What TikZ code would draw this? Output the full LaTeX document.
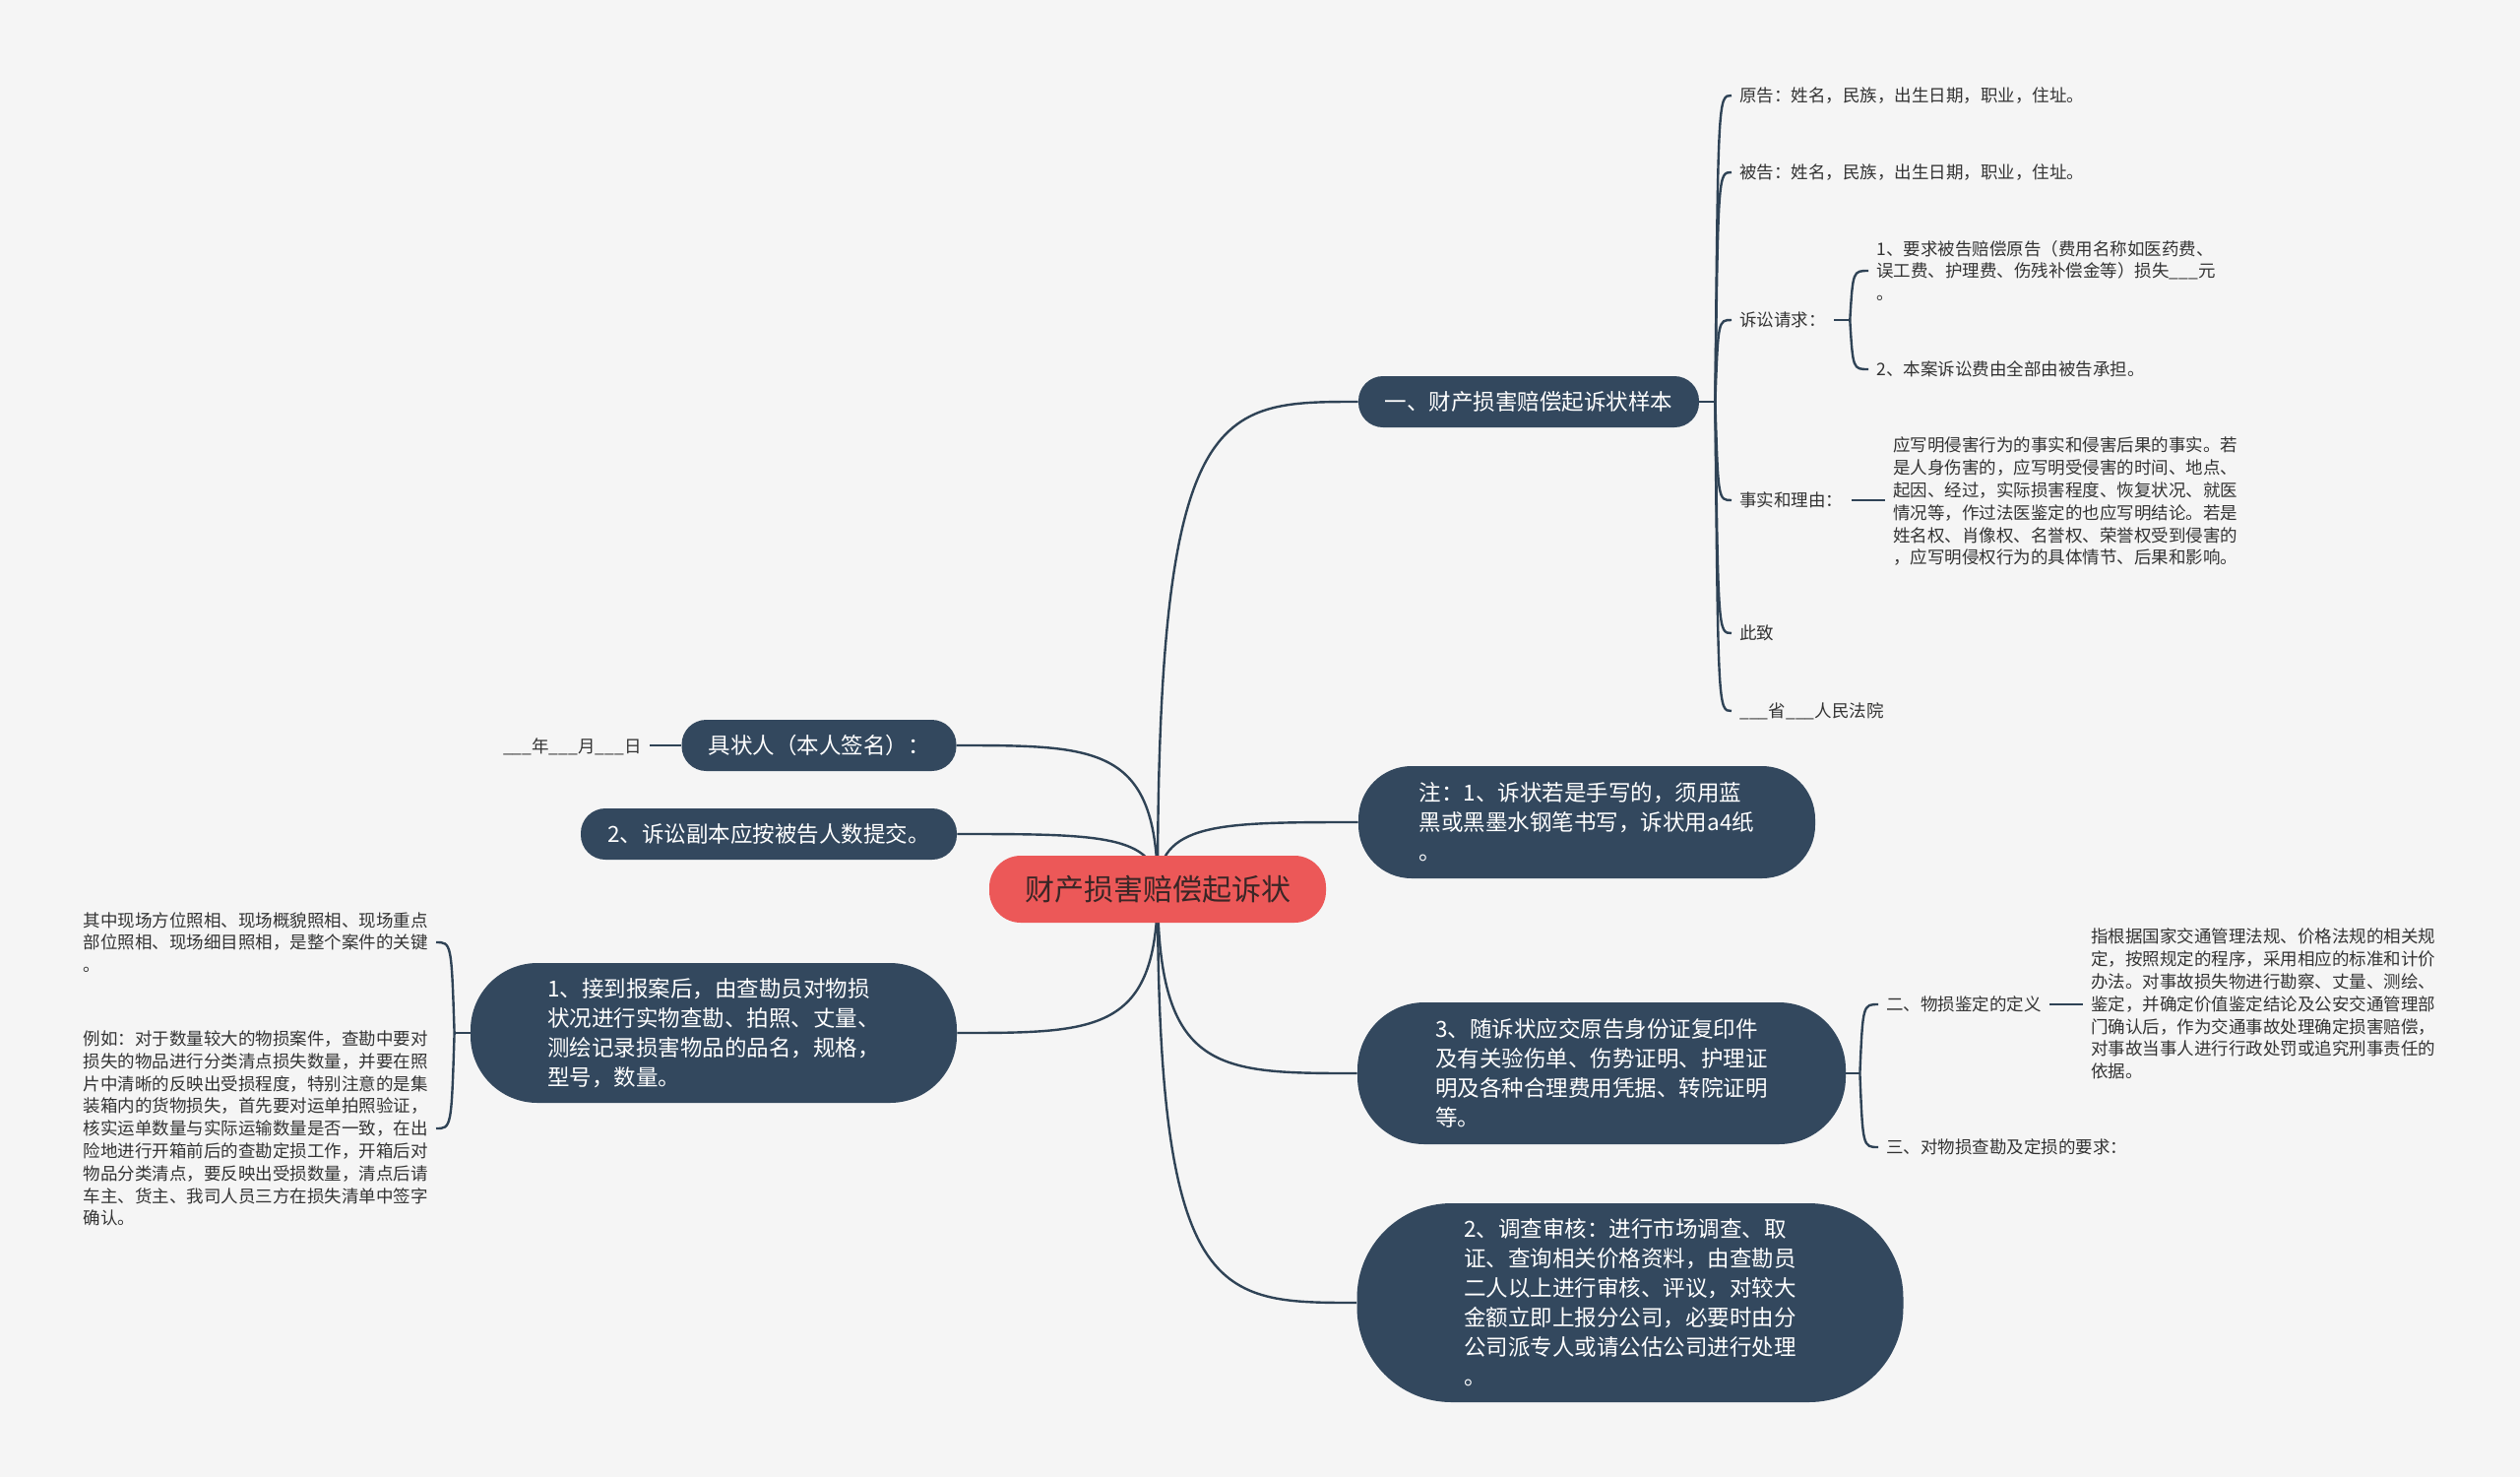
\documentclass[tikz,border=0pt]{standalone}
\usepackage{fontspec}
\setmainfont{Noto Sans CJK SC}
\usetikzlibrary{calc}
\definecolor{bgc}{HTML}{F5F5F5}
\definecolor{navy}{HTML}{33485E}
\definecolor{linec}{HTML}{2F4356}
\definecolor{rootc}{HTML}{EC5858}
\definecolor{roottext}{HTML}{3A2626}
\definecolor{leafc}{HTML}{333333}
\pgfdeclarelayer{back}
\pgfdeclarelayer{links}
\pgfsetlayers{back,links,main}
\newcommand\mybl{\_\_\_}
\tikzset{
  mainbox/.style={rectangle, fill=navy, text=white, align=left, inner sep=0pt,
    font=\fontsize{11.25pt}{15pt}\selectfont},
  rootbox/.style={rectangle, fill=rootc, text=roottext, inner sep=0pt,
    minimum width=171pt, minimum height=34pt, rounded corners=16pt,
    font=\fontsize{15pt}{18pt}\selectfont},
  leaf/.style={align=left, inner xsep=4pt, inner ysep=1pt, text=leafc,
    font=\fontsize{8.75pt}{11.4pt}\selectfont},
  link/.style={draw=linec, line width=1.2pt},
}
\begin{document}
\begin{tikzpicture}[x=0.5pt, y=-0.5pt]
\useasboundingbox (0,0) rectangle (2560,1500);
\begin{pgfonlayer}{back}
\fill[bgc] (0,0) rectangle (2560,1500);
\end{pgfonlayer}

% root
\node[rootbox] (root) at (1176,903) {财产损害赔偿起诉状};

% main branches
\node[mainbox, minimum width=173pt, minimum height=26pt, rounded corners=12.5pt] (n1) at (1553,408) {一、财产损害赔偿起诉状样本};
\node[mainbox, minimum width=232pt, minimum height=57pt, rounded corners=27pt] (n2) at (1612,835) {注：1、诉状若是手写的，须用蓝\\黑或黑墨水钢笔书写，诉状用a4纸\\。};
\node[mainbox, minimum width=248pt, minimum height=72pt, rounded corners=34pt] (n3) at (1627,1090) {3、随诉状应交原告身份证复印件\\及有关验伤单、伤势证明、护理证\\明及各种合理费用凭据、转院证明\\等。};
\node[mainbox, minimum width=277.5pt, minimum height=101pt, rounded corners=48pt] (n4) at (1656,1323) {2、调查审核：进行市场调查、取\\证、查询相关价格资料，由查勘员\\二人以上进行审核、评议，对较大\\金额立即上报分公司，必要时由分\\公司派专人或请公估公司进行处理\\。};
\node[mainbox, minimum width=139.5pt, minimum height=26pt, rounded corners=12.5pt] (l1) at (832,757) {具状人（本人签名）：};
\node[mainbox, minimum width=191pt, minimum height=26pt, rounded corners=12.5pt] (l2) at (781,847) {2、诉讼副本应按被告人数提交。};
\node[mainbox, minimum width=247pt, minimum height=71pt, rounded corners=34pt] (l3) at (725,1049) {1、接到报案后，由查勘员对物损\\状况进行实物查勘、拍照、丈量、\\测绘记录损害物品的品名，规格，\\型号，数量。};

% leaves of n1
\node[leaf, anchor=west] (yuangao) at (1759,97) {原告：姓名，民族，出生日期，职业，住址。};
\node[leaf, anchor=west] (beigao) at (1759,175) {被告：姓名，民族，出生日期，职业，住址。};
\node[leaf, anchor=west] (qingqiu) at (1759,325) {诉讼请求：};
\node[leaf, anchor=west] (q1) at (1898,275) {1、要求被告赔偿原告（费用名称如医药费、\\误工费、护理费、伤残补偿金等）损失\mybl 元\\。};
\node[leaf, anchor=west] (q2) at (1898,375) {2、本案诉讼费由全部由被告承担。};
\node[leaf, anchor=west] (liyou) at (1759,508) {事实和理由：};
\node[leaf, anchor=west] (facts) at (1915,509.5) {应写明侵害行为的事实和侵害后果的事实。若\\是人身伤害的，应写明受侵害的时间、地点、\\起因、经过，实际损害程度、恢复状况、就医\\情况等，作过法医鉴定的也应写明结论。若是\\姓名权、肖像权、名誉权、荣誉权受到侵害的\\，应写明侵权行为的具体情节、后果和影响。};
\node[leaf, anchor=west] (cizhi) at (1759,643) {此致};
\node[leaf, anchor=west] (fayuan) at (1759,722) {\mybl 省\mybl 人民法院};

% leaves of n3
\node[leaf, anchor=west] (dingyi) at (1908,1020) {二、物损鉴定的定义};
\node[leaf, anchor=west] (defn) at (2116,1019.5) {指根据国家交通管理法规、价格法规的相关规\\定，按照规定的程序，采用相应的标准和计价\\办法。对事故损失物进行勘察、丈量、测绘、\\鉴定，并确定价值鉴定结论及公安交通管理部\\门确认后，作为交通事故处理确定损害赔偿，\\对事故当事人进行行政处罚或追究刑事责任的\\依据。};
\node[leaf, anchor=west] (yaoqiu) at (1908,1165) {三、对物损查勘及定损的要求：};

% leaves on the left
\node[leaf, anchor=east] (date) at (660,758) {\mybl 年\mybl 月\mybl 日};
\node[leaf, anchor=east] (leafa) at (443,957) {其中现场方位照相、现场概貌照相、现场重点\\部位照相、现场细目照相，是整个案件的关键\\。};
\node[leaf, anchor=east] (leafb) at (443,1146) {例如：对于数量较大的物损案件，查勘中要对\\损失的物品进行分类清点损失数量，并要在照\\片中清晰的反映出受损程度，特别注意的是集\\装箱内的货物损失，首先要对运单拍照验证，\\核实运单数量与实际运输数量是否一致，在出\\险地进行开箱前后的查勘定损工作，开箱后对\\物品分类清点，要反映出受损数量，清点后请\\车主、货主、我司人员三方在损失清单中签字\\确认。};

\begin{pgfonlayer}{links}
% root to main branches
\foreach \tg in {n1.west, n2.west, n3.west, n4.west, l1.east, l2.east, l3.east}
  \draw[link] (root.center) .. controls (root.center |- \tg) and ($(root.center |- \tg)!0.3!(\tg)$) .. (\tg);

% bracket of n1
\coordinate (j1) at ($(n1.east)+(16,0)$);
\draw[link] (n1.east) -- (j1);
\foreach \c in {yuangao,beigao,qingqiu,liyou,cizhi,fayuan}
  \draw[link] (j1) .. controls ($(j1 |- \c.west)+(3,0)$) .. (\c.west);

% bracket of qingqiu
\coordinate (j2) at ($(qingqiu.east)+(16,0)$);
\draw[link] (qingqiu.east) -- (j2);
\foreach \c in {q1,q2}
  \draw[link] (j2) .. controls ($(j2 |- \c.west)+(3,0)$) .. (\c.west);

% facts
\draw[link] (liyou.east) -- (liyou.east -| facts.west);

% bracket of n3
\coordinate (j3) at ($(n3.east)+(14,0)$);
\draw[link] (n3.east) -- (j3);
\foreach \c in {dingyi,yaoqiu}
  \draw[link] (j3) .. controls ($(j3 |- \c.west)+(3,0)$) .. (\c.west);
\draw[link] (dingyi.east) -- (dingyi.east -| defn.west);

% date
\draw[link] (l1.west) -- (l1.west -| date.east);

% bracket of l3
\coordinate (j4) at ($(l3.west)+(-16,0)$);
\draw[link] (l3.west) -- (j4);
\foreach \c in {leafa,leafb}
  \draw[link] (j4) .. controls ($(j4 |- \c.east)+(-3,0)$) .. (\c.east);
\end{pgfonlayer}
\end{tikzpicture}
\end{document}
